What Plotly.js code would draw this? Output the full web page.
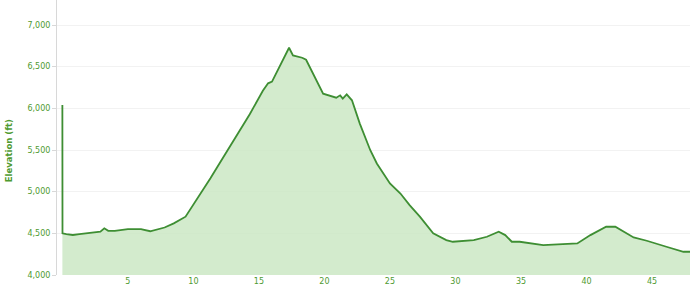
<!DOCTYPE html>
<html><head><meta charset="utf-8">
<script src="https://cdn.plot.ly/plotly-3.0.1.min.js"></script>
<style>html,body{margin:0;padding:0;background:#fff}#chart{width:690px;height:293px}</style>
</head><body><div id="chart"></div>
<script>
const distance = [0, 0.01, 0.3, 0.8, 1.3, 1.8, 2.4, 2.9, 3.2, 3.5, 4.0, 5.0, 6.0, 6.7, 7.8, 8.5, 9.4, 10.2, 11.3, 12.0, 13.0, 14.3, 15.3, 15.7, 16.0, 16.6, 17.3, 17.6, 18.3, 18.6, 19.4, 19.9, 20.9, 21.2, 21.4, 21.7, 22.1, 22.7, 23.5, 24.0, 25.0, 25.8, 26.5, 27.3, 28.3, 29.3, 29.8, 31.4, 32.4, 33.3, 33.8, 34.3, 34.9, 36.7, 39.3, 40.3, 41.5, 42.2, 43.6, 44.6, 46.1, 47.4, 47.9];
const elevation = [6040, 4500, 4490, 4480, 4490, 4500, 4510, 4520, 4560, 4530, 4530, 4550, 4550, 4525, 4570, 4620, 4700, 4890, 5160, 5340, 5600, 5930, 6210, 6300, 6320, 6500, 6727, 6635, 6607, 6583, 6335, 6176, 6128, 6156, 6116, 6168, 6096, 5817, 5497, 5338, 5098, 4978, 4838, 4698, 4500, 4419, 4399, 4419, 4459, 4519, 4479, 4399, 4399, 4359, 4379, 4479, 4579, 4579, 4451, 4411, 4339, 4279, 4279];
const xTicks = [5, 10, 15, 20, 25, 30, 35, 40, 45];
const yTicks = [4000, 4500, 5000, 5500, 6000, 6500, 7000];
const yTickText = ['4,000', '4,500', '5,000', '5,500', '6,000', '6,500', '7,000'];

const trace = {
  x: distance, y: elevation, type: 'scatter', mode: 'lines',
  fill: 'tozeroy', fillcolor: 'rgba(200,230,192,0.8)',
  line: {color: '#3e8e33', width: 1.8}, hoverinfo: 'none'
};
const labFont = {family: 'DejaVu Sans, Verdana, sans-serif', size: 8, color: '#4f9a30'};
const layout = {
  width: 690, height: 293,
  margin: {l: 57, r: 0, t: 0, b: 18},
  paper_bgcolor: '#fff', plot_bgcolor: '#fff',
  showlegend: false,
  xaxis: {range: [-0.41, 47.9], tickvals: xTicks, ticktext: xTicks.map(String),
    showgrid: false, zeroline: false, showline: false, ticks: '', tickfont: labFont},
  yaxis: {range: [4000, 7300], tickvals: yTicks, ticktext: yTickText,
    showgrid: true, gridcolor: '#f2f2f2', zeroline: false, showline: true, linecolor: '#d8d8d8', linewidth: 1,
    ticks: 'outside', ticklen: 4, tickcolor: '#d8d8d8', tickfont: labFont},
  annotations: [{text: '<b>Elevation (ft)</b>', xref: 'paper', yref: 'paper', x: -55/633, y: 0.45,
    xanchor: 'left', yanchor: 'middle', textangle: -90, showarrow: false,
    font: {family: 'DejaVu Sans, Verdana, sans-serif', size: 8.5, color: '#4f9a30'}}]
};
Plotly.newPlot('chart', [trace], layout, {displayModeBar: false, staticPlot: true});
</script></body></html>
